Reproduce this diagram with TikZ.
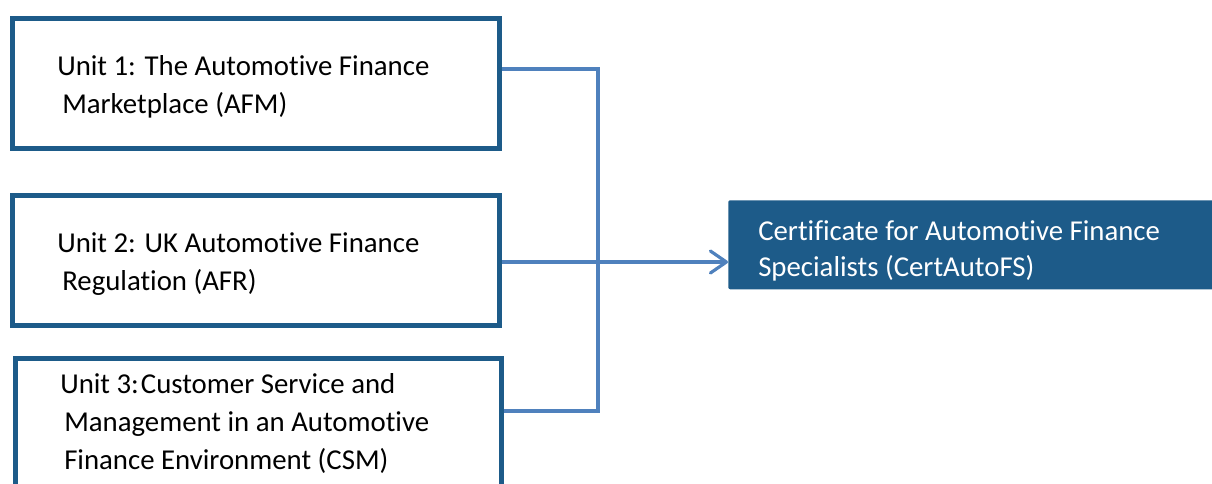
\documentclass[tikz,border=0pt]{standalone}
\usepackage{fontspec}
\setmainfont{Carlito}[Ligatures=NoCommon]
\usetikzlibrary{arrows.meta}
\definecolor{unitblue}{RGB}{29,91,137}
\definecolor{linkblue}{RGB}{79,129,189}
\tikzset{
  unitbox/.style={draw=unitblue,line width=3.75pt,inner sep=0pt,anchor=north west,minimum width=365.6pt,minimum height=97.9pt},
  unittext/.style={anchor=base west,align=left,inner sep=0pt,font=\fontsize{21.6}{28.5}\selectfont},
  link/.style={draw=linkblue,line width=2.4pt},
}
\begin{document}
\begin{tikzpicture}[x=0.75pt,y=-0.75pt]
\useasboundingbox (0,0) rectangle (1212,483);
\node[unitbox](u1)at(9.5,15.5){};
\node[unitbox](u2)at(9.5,192.5){};
\node[unitbox,minimum width=364.9pt,minimum height=123.4pt](u3)at(12.5,355.5){};
\node[fill=unitblue,rounded corners=1.5pt,inner sep=0pt,anchor=north west,minimum width=365.25pt,minimum height=66.75pt](cert)at(728,200){};
\node[unittext](t1)at(57,113){Unit 1: The Automotive Finance\\\hspace{3.75pt}Marketplace (AFM)};
\node[unittext](t2)at(57,290){Unit 2: UK Automotive Finance\\\hspace{3.75pt}Regulation (AFR)};
\node[unittext](t3)at(60,469){Unit 3:\hspace{1.5pt}Customer Service and\\\hspace{3pt}Management in an Automotive\\\hspace{3pt}Finance Environment (CSM)};
\node[unittext,text=white,font=\fontsize{21.6}{27}\selectfont](tc)at(758,276){Certificate for Automotive Finance\\Specialists (CertAutoFS)};
\coordinate(jtop)at(598,69);
\coordinate(hub)at(598,262);
\coordinate(jbot)at(598,411);
\draw[link](u1.east|-jtop)--(jtop)--(jbot)--(u3.east|-jbot);
\draw[link,-{Straight Barb[length=12pt,width=16.5pt,round]}](u2.east|-hub)--(cert.west|-hub);
\end{tikzpicture}
\end{document}
